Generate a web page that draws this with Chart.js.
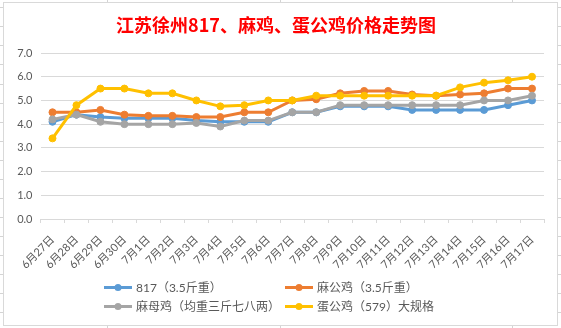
<!DOCTYPE html>
<html>
<head>
<meta charset="utf-8">
<script src="https://cdn.jsdelivr.net/npm/chart.js@4.4.1/dist/chart.umd.min.js"></script>
<style>
  html, body { margin: 0; padding: 0; background: #fff; }
  body { width: 561px; height: 328px; position: relative; overflow: hidden; }
  .cell-v { position: absolute; top: 0; width: 1px; height: 328px; background: #d4d4d4; }
  .cell-h { position: absolute; left: 0; height: 1px; width: 561px; background: #d4d4d4; }
  #box {
    position: absolute; left: 3px; top: 2px; width: 555px; height: 324px;
    box-sizing: border-box; border: 1px solid #d9d9d9; background: #fff;
  }
  #box canvas { position: absolute; left: 0; top: 0; }
</style>
</head>
<body>
<div id="box"><canvas id="chart" width="553" height="322"></canvas></div>
<script>
// 江苏徐州 price trend.
const dates = [
  '6月27日', '6月28日', '6月29日', '6月30日', '7月1日', '7月2日', '7月3日',
  '7月4日', '7月5日', '7月6日', '7月7日', '7月8日', '7月9日', '7月10日',
  '7月11日', '7月12日', '7月13日', '7月14日', '7月15日', '7月16日', '7月17日',
];
const seriesNames = ['817（3.5斤重）', '麻公鸡（3.5斤重）', '麻母鸡（均重三斤七八两）', '蛋公鸡（579）大规格'];
const price817 = [4.1, 4.4, 4.3, 4.25, 4.25, 4.25, 4.15, 4.1, 4.1, 4.1, 4.5, 4.5, 4.75, 4.75, 4.75, 4.6, 4.6, 4.6, 4.6, 4.8, 5.0];
const priceMaGong = [4.5, 4.5, 4.6, 4.4, 4.35, 4.35, 4.3, 4.3, 4.5, 4.5, 5.0, 5.05, 5.3, 5.4, 5.4, 5.25, 5.2, 5.25, 5.3, 5.5, 5.5];
const priceMaMu = [4.2, 4.4, 4.1, 4.0, 4.0, 4.0, 4.05, 3.9, 4.15, 4.15, 4.5, 4.5, 4.8, 4.8, 4.8, 4.8, 4.8, 4.8, 5.0, 5.0, 5.2];
const priceDanGong = [3.4, 4.8, 5.5, 5.5, 5.3, 5.3, 5.0, 4.75, 4.8, 5.0, 5.0, 5.2, 5.2, 5.2, 5.2, 5.2, 5.2, 5.55, 5.75, 5.85, 6.0];
const yTicks = [0, 1, 2, 3, 4, 5, 6, 7];

const colors = ['#5b9bd5', '#ed7d31', '#a5a5a5', '#ffc000'];
const textGray = '#595959';
const gridGray = '#d9d9d9';
const latin = "Lato, 'Noto Sans CJK SC', sans-serif";
const cjk = "'Noto Sans CJK SC', sans-serif";

// spreadsheet cell lines behind the chart box
[107, 280, 512].forEach((x) => {
  const d = document.createElement('div');
  d.className = 'cell-v'; d.style.left = x + 'px';
  document.body.insertBefore(d, document.body.firstChild);
});
for (let y = 7.3; y < 328; y += 19.06) {
  const d = document.createElement('div');
  d.className = 'cell-h'; d.style.top = Math.round(y) + 'px';
  document.body.insertBefore(d, document.body.firstChild);
}

function makeSet(i, data) {
  return {
    label: seriesNames[i],
    data,
    borderColor: colors[i],
    backgroundColor: colors[i],
    pointBackgroundColor: colors[i],
    pointBorderColor: colors[i],
    borderWidth: 3,
    pointRadius: 3.5,
    pointBorderWidth: 1,
    tension: 0,
    order: 3 - i, // later series drawn on top, like Excel
  };
}

// two-column legend under the axis, sample = line + dot
const gridLegend = {
  id: 'gridLegend',
  afterDraw(chart) {
    const ctx = chart.ctx;
    const colX = [100, 281];
    const rowY = [284.5, 303.5];
    ctx.save();
    chart.data.datasets.forEach((ds, i) => {
      const x = colX[i % 2];
      const y = rowY[Math.floor(i / 2)];
      ctx.strokeStyle = ds.borderColor;
      ctx.fillStyle = ds.borderColor;
      ctx.lineWidth = 3;
      ctx.beginPath();
      ctx.moveTo(x, y);
      ctx.lineTo(x + 28, y);
      ctx.stroke();
      ctx.beginPath();
      ctx.arc(x + 14, y, 3.5, 0, Math.PI * 2);
      ctx.fill();
      ctx.fillStyle = textGray;
      ctx.font = '12px ' + latin;
      ctx.textBaseline = 'middle';
      ctx.fillText(ds.label, x + 32, y + 0.5);
    });
    ctx.restore();
  },
};

new Chart(document.getElementById('chart'), {
  type: 'line',
  data: {
    labels: dates,
    datasets: [
      makeSet(0, price817),
      makeSet(1, priceMaGong),
      makeSet(2, priceMaMu),
      makeSet(3, priceDanGong),
    ],
  },
  options: {
    responsive: false,
    animation: false,
    layout: { padding: { left: 4, right: 13, top: 0, bottom: 56 } },
    plugins: {
      legend: { display: false },
      tooltip: { enabled: false },
      title: {
        display: true,
        text: '江苏徐州817、麻鸡、蛋公鸡价格走势图',
        color: '#ff0000',
        font: { family: cjk, size: 18, weight: 'bold', lineHeight: 1.2 },
        padding: { top: 11.5, bottom: 16.9 },
      },
    },
    scales: {
      x: {
        offset: true,
        grid: {
          offset: true,
          drawOnChartArea: false,
          drawTicks: true,
          tickLength: 4,
          color: gridGray,
        },
        border: { display: true, color: gridGray },
        ticks: {
          color: textGray,
          font: { family: latin, size: 11 },
          minRotation: 45,
          maxRotation: 45,
          autoSkip: false,
          padding: 10,
        },
        afterFit: (s) => { s.height = 50; },
      },
      y: {
        min: yTicks[0],
        max: yTicks[yTicks.length - 1],
        afterBuildTicks: (s) => { s.ticks = yTicks.map((v) => ({ value: v })); },
        grid: { color: gridGray, drawTicks: false },
        border: { display: false },
        ticks: {
          color: textGray,
          font: { family: latin, size: 11 },
          padding: 8,
          callback: (v) => Number(v).toFixed(1),
        },
        afterFit: (s) => { s.width = 32.5; },
      },
    },
  },
  plugins: [gridLegend],
});
</script>
</body>
</html>
